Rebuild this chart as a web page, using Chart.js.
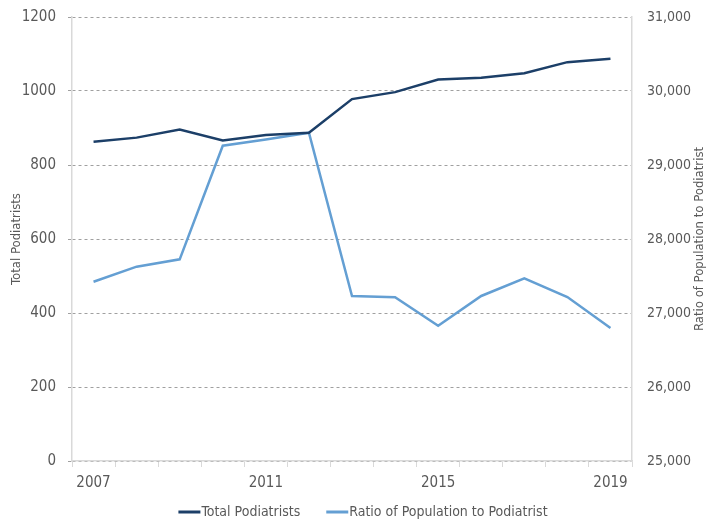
<!DOCTYPE html>
<html><head><meta charset="utf-8">
<script src="https://cdn.jsdelivr.net/npm/chart.js@4"></script>
<style>html,body{margin:0;padding:0;background:#fff}#wrap{width:706px;height:525px}</style>
</head><body><div id="wrap"><canvas id="c" width="706" height="525"></canvas></div>
<script>
const years = ['2007','2008','2009','2010','2011','2012','2013','2014','2015','2016','2017','2018','2019'];
const xTickLabels = ['2007','2011','2015','2019'];
const totalPodiatrists = [863, 874, 896, 866, 881, 887, 978, 997, 1031, 1036, 1048, 1078, 1087];
const ratioPopToPodiatrist = [27423, 27626, 27725, 29261, 29345, 29436, 27230, 27212, 26828, 27230, 27469, 27216, 26797];
const leftAxis = {min: 0, max: 1200, step: 200};
const rightAxis = {min: 25000, max: 31000, step: 1000};
const leftTitle = 'Total Podiatrists';
const rightTitle = 'Ratio of Population to Podiatrist';

const FONT = "'Liberation Sans Narrow', 'DejaVu Sans Condensed', 'Arial Narrow', sans-serif";
const TXT = '#595959';
const DARK = '#1c3f68';
const LIGHT = '#649fd3';

const rightTitlePlugin = {
  id: 'rightTitle',
  afterDraw(chart) {
    const ctx = chart.ctx, ca = chart.chartArea;
    ctx.save();
    ctx.translate(chart.width - 6, (ca.top + ca.bottom) / 2);
    ctx.rotate(-Math.PI / 2);
    ctx.font = '13px ' + FONT;
    ctx.fillStyle = TXT;
    ctx.textAlign = 'center';
    ctx.textBaseline = 'middle';
    ctx.fillText(rightTitle, 0, 0);
    ctx.restore();
  }
};

const legendPlugin = {
  id: 'customLegend',
  afterDraw(chart) {
    const ctx = chart.ctx;
    const lineW = 22, gap = 1, itemGap = 26;
    ctx.save();
    ctx.font = '14px ' + FONT;
    const items = chart.data.datasets.map(ds => ({text: ds.label, color: ds.borderColor, w: ctx.measureText(ds.label).width}));
    const total = items.reduce((a, it) => a + lineW + gap + it.w, 0) + itemGap * (items.length - 1);
    let x = (chart.width + 20) / 2 - total / 2;
    const y = chart.height - 13;
    ctx.textBaseline = 'middle';
    ctx.textAlign = 'left';
    items.forEach(it => {
      ctx.strokeStyle = it.color;
      ctx.lineWidth = 3;
      ctx.beginPath(); ctx.moveTo(x, y); ctx.lineTo(x + lineW, y); ctx.stroke();
      x += lineW + gap;
      ctx.fillStyle = TXT;
      ctx.fillText(it.text, x, y);
      x += it.w + itemGap;
    });
    ctx.restore();
  }
};

new Chart(document.getElementById('c'), {
  type: 'line',
  plugins: [rightTitlePlugin, legendPlugin],
  data: {
    labels: years,
    datasets: [
      {label: 'Total Podiatrists', data: totalPodiatrists, yAxisID: 'y', borderColor: DARK, backgroundColor: DARK, borderWidth: 2.5, pointRadius: 0, tension: 0},
      {label: 'Ratio of Population to Podiatrist', data: ratioPopToPodiatrist, yAxisID: 'y1', borderColor: LIGHT, backgroundColor: LIGHT, borderWidth: 2.5, pointRadius: 0, tension: 0}
    ]
  },
  options: {
    responsive: false,
    animation: false,
    layout: {padding: {top: 17, left: 0, right: 0, bottom: 0}},
    plugins: {
      tooltip: {enabled: false},
      legend: {display: false}
    },
    scales: {
      x: {
        type: 'category',
        offset: true,
        grid: {offset: true, drawOnChartArea: false, drawTicks: true, tickLength: 6, color: '#d9d9d9', lineWidth: 1},
        border: {color: '#d9d9d9', width: 1.5},
        ticks: {
          autoSkip: false, maxRotation: 0, color: TXT, padding: 7,
          font: {family: FONT, size: 15},
          callback(v, i) { const l = this.getLabelForValue(v); return xTickLabels.includes(l) ? l : ''; }
        },
        afterFit(s) { s.height = 64; }
      },
      y: {
        position: 'left',
        min: leftAxis.min, max: leftAxis.max,
        grid: {color: '#a0a0a0', lineWidth: 1, tickLength: 4},
        border: {color: '#d9d9d9', width: 1.5, dash: [3, 3]},
        ticks: {stepSize: leftAxis.step, color: TXT, padding: 12, font: {family: FONT, size: 15},
          callback(v) { return String(v); }},
        title: {display: true, text: leftTitle, color: TXT, font: {family: FONT, size: 13}, padding: {top: 9, bottom: 0}},
        afterFit(s) { s.width = 72; s.paddingTop = 0; s.paddingBottom = 0; }
      },
      y1: {
        position: 'right',
        min: rightAxis.min, max: rightAxis.max,
        grid: {drawOnChartArea: false, drawTicks: false},
        border: {color: '#d9d9d9', width: 1.5},
        ticks: {stepSize: rightAxis.step, color: TXT, padding: 15, font: {family: FONT, size: 14},
          callback(v) { return Number(v).toLocaleString('en-US'); }},
        afterFit(s) { s.width = 74; s.paddingTop = 0; s.paddingBottom = 0; }
      }
    }
  }
});
</script></body></html>
